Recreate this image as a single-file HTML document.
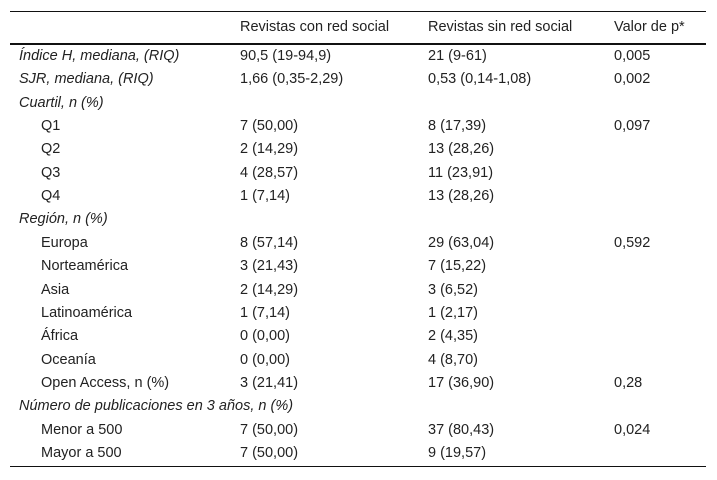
<!DOCTYPE html>
<html><head><meta charset="utf-8"><style>
body{margin:0;width:717px;height:480px;background:#fff;font-family:"Liberation Sans",sans-serif;font-size:14.5px;color:#222;position:relative;overflow:hidden}
.l{position:absolute;left:10px;width:696px;background:#111}
.t{position:absolute;white-space:nowrap;line-height:16px}
.i{font-style:italic}
</style></head><body>
<div class="l" style="top:11px;height:1px"></div>
<div class="l" style="top:43px;height:2px"></div>
<div class="l" style="top:466px;height:1px"></div>
<div id="tbl"></div>
<script>
const hdr=["Revistas con red social","Revistas sin red social","Valor de p*"];
const rows=[
["Índice H, mediana, (RIQ)","90,5 (19-94,9)","21 (9-61)","0,005",1],
["SJR, mediana, (RIQ)","1,66 (0,35-2,29)","0,53 (0,14-1,08)","0,002",1],
["Cuartil, n (%)","","","",1],
["Q1","7 (50,00)","8 (17,39)","0,097",0],
["Q2","2 (14,29)","13 (28,26)","",0],
["Q3","4 (28,57)","11 (23,91)","",0],
["Q4","1 (7,14)","13 (28,26)","",0],
["Región, n (%)","","","",1],
["Europa","8 (57,14)","29 (63,04)","0,592",0],
["Norteamérica","3 (21,43)","7 (15,22)","",0],
["Asia","2 (14,29)","3 (6,52)","",0],
["Latinoamérica","1 (7,14)","1 (2,17)","",0],
["África","0 (0,00)","2 (4,35)","",0],
["Oceanía","0 (0,00)","4 (8,70)","",0],
["Open Access, n (%)","3 (21,41)","17 (36,90)","0,28",0],
["Número de publicaciones en 3 años, n (%)","","","",1],
["Menor a 500","7 (50,00)","37 (80,43)","0,024",0],
["Mayor a 500","7 (50,00)","9 (19,57)","",0]];
const cx=[240,428,614];
const T=document.getElementById('tbl');
function add(txt,x,y,cls,name){const d=document.createElement('div');d.className='t '+cls;d.textContent=txt;d.style.left=x+'px';d.style.top=y+'px';


T.appendChild(d);}
hdr.forEach((h,j)=>add(h,cx[j],19,'','header-cell'));
rows.forEach((r,i)=>{const y=48+i*23.35;
add(r[0],r[4]?19:41,y,r[4]?'i':'','row-label');
for(let j=1;j<4;j++) if(r[j]) add(r[j],cx[j-1],y,'','row-value');});
</script>
</body></html>
